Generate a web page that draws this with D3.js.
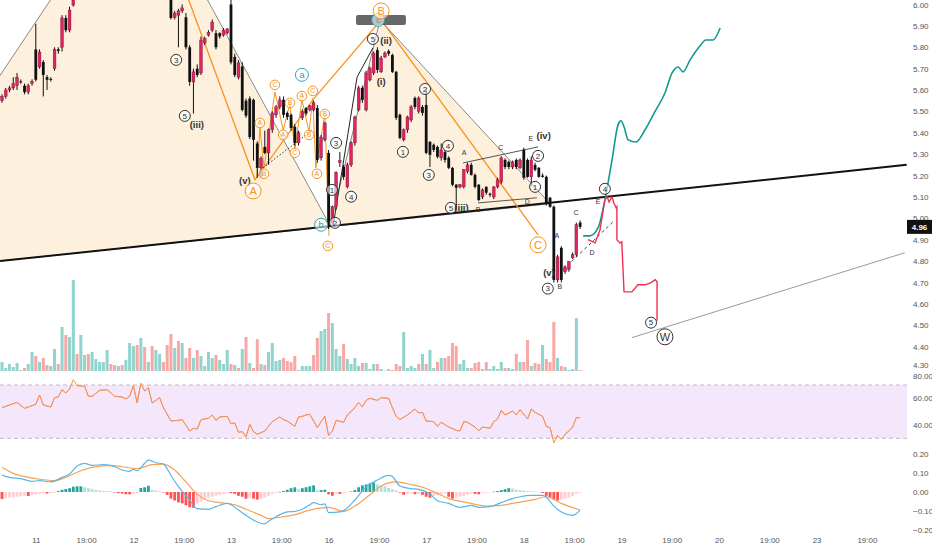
<!DOCTYPE html>
<html><head><meta charset="utf-8">
<script src="https://cdn.jsdelivr.net/npm/d3@7"></script>
<style>
body{margin:0;background:#fff}
svg{display:block}
text{font-family:"Liberation Sans",Arial,sans-serif}
</style>
</head><body>
<svg id="c" width="932" height="550"></svg>
<script>
// ---------- DATA ----------
const priceTicks = [6.00,5.90,5.80,5.70,5.60,5.50,5.40,5.30,5.20,5.10,5.00,4.90,4.80,4.70,4.60,4.50,4.40,4.30];
const rsiTicks = [80,60,40];
const macdTicks = [0.20,0.10,0.00,-0.10,-0.20];
const timeTicks = [9,22.4,35,48.4,61,74.4,87,100.4,113,126.4,139,152.4,165,178.4,191,204.4,217,230.4];
const timeLabels = ["11","19:00","12","19:00","13","19:00","16","19:00","17","19:00","18","19:00","19","19:00","20","19:00","23","19:00"];

// candles [open, high, low, close]
const candles = [
[5.55,5.58,5.54,5.57],[5.57,5.61,5.56,5.60],[5.60,5.62,5.59,5.61],[5.61,5.66,5.60,5.63],[5.62,5.68,5.60,5.66],
[5.64,5.65,5.63,5.638],[5.62,5.63,5.58,5.59],[5.59,5.63,5.58,5.62],[5.63,5.65,5.62,5.64],[5.79,5.91,5.64,5.648],
[5.708,5.79,5.70,5.778],[5.731,5.74,5.57,5.67],[5.66,5.67,5.60,5.648],[5.652,5.66,5.64,5.65],[5.70,5.80,5.69,5.79],
[5.79,5.80,5.77,5.783],[5.80,5.95,5.78,5.937],[5.937,5.95,5.87,5.88],[5.88,5.99,5.87,5.974],[5.997,6.05,5.99,6.02],
[6.03,6.12,6.03,6.10],[6.10,6.18,6.08,6.15],[6.15,6.22,6.12,6.20],[6.20,6.24,6.14,6.16],[6.16,6.20,6.12,6.18],
[6.18,6.26,6.16,6.24],[6.24,6.30,6.21,6.28],[6.28,6.32,6.24,6.26],[6.26,6.33,6.24,6.31],[6.31,6.34,6.25,6.27],
[6.27,6.29,6.22,6.24],[6.24,6.27,6.20,6.22],[6.22,6.25,6.18,6.20],[6.20,6.26,6.19,6.25],[6.25,6.36,6.23,6.34],
[6.34,6.38,6.22,6.24],[6.24,6.40,6.23,6.38],[6.38,6.42,6.30,6.32],[6.32,6.37,6.28,6.35],[6.35,6.37,6.22,6.24],
[6.24,6.27,6.18,6.20],[6.20,6.22,6.12,6.14],[6.14,6.16,6.08,6.10],[6.10,6.12,6.05,6.07],[6.07,6.09,6.03,6.05],
[6.04,6.06,5.93,5.937],[5.94,5.97,5.93,5.96],[5.95,5.98,5.80,5.97],[5.97,6.00,5.96,5.984],[5.94,5.96,5.79,5.80],
[5.80,5.81,5.62,5.638],[5.638,5.70,5.49,5.685],[5.70,5.72,5.66,5.67],[5.68,5.85,5.67,5.834],[5.82,5.85,5.81,5.84],
[5.857,5.88,5.85,5.87],[5.88,5.93,5.87,5.918],[5.866,5.88,5.79,5.80],[5.866,5.87,5.84,5.85],[5.857,5.89,5.85,5.88],
[5.867,5.89,5.86,5.886],[6.00,6.05,5.72,5.73],[5.755,5.77,5.66,5.67],[5.66,5.74,5.65,5.727],[5.71,5.73,5.50,5.507],
[5.55,5.56,5.47,5.48],[5.56,5.57,5.37,5.38],[5.554,5.56,5.27,5.367],[5.35,5.36,5.19,5.236],[5.236,5.29,5.19,5.28],
[5.334,5.41,5.30,5.306],[5.306,5.42,5.25,5.414],[5.414,5.50,5.40,5.493],[5.484,5.53,5.47,5.521],[5.521,5.57,5.51,5.554],
[5.554,5.57,5.47,5.484],[5.493,5.50,5.46,5.474],[5.484,5.49,5.41,5.423],[5.428,5.44,5.34,5.353],[5.353,5.41,5.34,5.40],
[5.47,5.51,5.46,5.50],[5.516,5.52,5.48,5.49],[5.507,5.53,5.50,5.526],[5.507,5.55,5.50,5.54],[5.516,5.53,5.26,5.273],
[5.283,5.39,5.27,5.38],[5.367,5.45,5.36,5.446],[5.306,5.32,4.95,4.96],[4.98,5.06,4.97,5.054],[5.054,5.22,5.04,5.213],
[5.26,5.31,5.24,5.27],[5.24,5.25,5.18,5.194],[5.147,5.26,5.14,5.25],[5.25,5.36,5.24,5.353],[5.353,5.48,5.34,5.474],
[5.507,5.62,5.50,5.61],[5.61,5.62,5.54,5.554],[5.507,5.69,5.50,5.68],[5.647,5.71,5.64,5.703],[5.68,5.78,5.67,5.773],
[5.787,5.80,5.68,5.694],[5.685,5.76,5.68,5.75],[5.755,5.78,5.75,5.773],[5.782,5.79,5.76,5.77],[5.764,5.77,5.68,5.685],
[5.685,5.69,5.46,5.47],[5.484,5.49,5.37,5.376],[5.367,5.42,5.36,5.414],[5.414,5.48,5.40,5.474],[5.46,5.53,5.45,5.521],
[5.563,5.57,5.51,5.521],[5.50,5.57,5.49,5.563],[5.521,5.53,5.48,5.493],[5.53,5.61,5.30,5.306],[5.358,5.36,5.24,5.297],
[5.344,5.35,5.31,5.32],[5.334,5.34,5.28,5.288],[5.283,5.35,5.27,5.32],[5.31,5.32,5.26,5.273],[5.283,5.29,5.23,5.236],
[5.236,5.24,5.15,5.157],[5.157,5.16,5.04,5.143],[5.147,5.16,5.14,5.157],[5.147,5.23,5.14,5.227],[5.22,5.26,5.21,5.25],
[5.25,5.26,5.20,5.203],[5.203,5.21,5.14,5.147],[5.157,5.16,5.08,5.086],[5.10,5.14,5.09,5.133],[5.147,5.15,5.11,5.12],
[5.115,5.12,5.10,5.11],[5.10,5.15,5.09,5.147],[5.147,5.19,5.14,5.18],[5.17,5.29,5.16,5.283],[5.273,5.28,5.23,5.24],
[5.264,5.27,5.23,5.24],[5.24,5.27,5.23,5.264],[5.273,5.28,5.23,5.24],[5.236,5.28,5.23,5.273],[5.32,5.33,5.18,5.19],
[5.273,5.28,5.19,5.194],[5.194,5.29,5.15,5.273],[5.25,5.26,5.22,5.227],[5.236,5.24,5.19,5.194],[5.20,5.21,5.19,5.194],
[5.194,5.20,5.06,5.072],[5.096,5.10,5.05,5.054],[5.054,5.06,4.70,4.712],[4.712,4.83,4.70,4.82],[4.862,4.87,4.70,4.712],
[4.75,4.78,4.74,4.773],[4.76,4.80,4.75,4.797],[4.815,4.84,4.81,4.83],[4.83,4.98,4.82,4.97],[4.98,4.99,4.95,4.96]
];

const volume = [9,3,7,4,8,1,3,7,19,15,9,13,6,5,22,7,44,36,34,91,17,36,16,17,19,12,9,9,21,7,6,5,6,11,28,25,26,33,24,9,
25,21,17,9,26,37,23,30,28,13,23,13,21,15,5,19,13,16,11,7,21,7,6,3,22,34,8,3,32,7,6,19,28,10,11,13,10,9,15,1,5,5,5,
16,33,40,42,58,48,22,15,27,12,7,13,5,8,8,2,7,7,2,0.5,2,1,7,5,39,3,5,3,7,17,7,21,3,9,13,13,15,28,25,7,11,3,3,8,9,2,9,2,5,2,9,3,3,2,17,9,9,31,5,8,7,26,12,9,49,13,5,4,1,2,53,1];
const volumeSide = ("ttttttpttp"+"tppttptptt"+"pttptttttp"+"ptptttptpt"+"pttppptptp"+"ptpttttptt"+"tptptptppt"+"pttttppppt"+"ttt"+
"ppttptttpt"+"tttptttptt"+"ppppttttpt"+"pttptppppt"+"ttppptpttt"+"tpttptpptp"+"ptppptpttt"+"tp").split("");

const rsiIdx = [0,4,6,8,9,10,11,13,14,15,16,17,18,19,20,22,23,24,26,28,30,32,33,34,35,36,37,38,39,40,42,43,45,47,48,50,51,52,53,55,56,57,58,60,61,62,63,64,65,66,67,68,70,72,74,75,76,78,79,80,81,82,84,85,86,87,88,89,91,92,94,95,96,97,98,100,101,103,104,105,106,108,110,111,112,113,115,116,117,119,121,122,123,124,126,127,128,130,131,132,133,134,136,137,138,139,140,141,142,144,145,146,147,148,149,150,151,152,153,154];
const rsiVal = [53,57,52.5,54.5,55.5,62.5,55,53.5,60.5,61,66.5,64,67,74,69.5,69,61.5,61.5,66,66.5,61.5,61,59.5,61.5,69.5,56.5,71.5,65.5,68,56.5,60.5,53,43,43.5,44,35.5,37.5,37,44,45,47.5,43.5,46,46.5,41,41.5,34.5,35,31,40.5,35,33,35.5,42.5,46,44,43,39,46,46.5,47.5,48,38,42.5,46.5,32,35.5,43.5,42,47.5,53,57,53.5,58.5,60,58.5,60.5,60,53,46.5,44,47.5,52,49,49.5,43,42.5,39,42,38.5,36,35.5,42.5,42,38.5,35.5,38.5,37.5,42.5,44.5,51,47.5,50.5,47.5,51.5,48,44.5,52,49.5,46.5,39,38,26.5,32,29,33,35.5,38.5,45.5,45.5];

const macdIdx = [0,2,5,8,10,13,16,18,20,22,24,27,30,32,34,35,36,38,39,41,43,45,47,50,52,55,57,60,63,65,68,70,71,73,76,78,80,82,83,85,86,87,90,91,94,97,100,103,104,106,109,111,114,116,119,122,125,127,130,133,136,138,141,144,145,147,149,152,154];
const macdVal = [.089,.077,.070,.056,.060,.053,.077,.095,.137,.151,.140,.144,.133,.116,.109,.119,.112,.151,.168,.154,.147,.088,.028,-.042,-.088,-.091,-.077,-.060,-.095,-.123,-.158,-.168,-.154,-.130,-.105,-.102,-.091,-.067,-.056,-.067,-.063,-.109,-.105,-.098,-.042,.028,.063,.088,.081,.032,.018,.014,-.011,-.046,-.060,-.081,-.070,-.081,-.077,-.056,-.035,-.025,-.018,-.018,-.028,-.074,-.105,-.123,-.095];
const signalIdx = [0,3,7,10,14,17,21,24,29,32,36,40,43,46,49,52,55,58,62,65,69,71,75,78,82,87,91,94,98,101,105,109,112,116,119,124,129,133,137,142,145,149,154];
const signalVal = [.130,.098,.077,.067,.060,.077,.112,.130,.140,.133,.123,.144,.147,.116,.053,-.011,-.046,-.056,-.067,-.091,-.123,-.140,-.130,-.119,-.095,-.081,-.102,-.074,-.014,.032,.053,.039,.025,-.007,-.035,-.056,-.074,-.070,-.056,-.039,-.025,-.060,-.095];
const histogram = [
-.037,-.033,-.030,-.028,-.025,-.023,-.020,-.021,-.015,-.012,
-.010,-.008,-.008,-.006,-.004,.005,.012,.016,.020,.028,
.030,.030,.025,.020,.015,.010,.008,.006,.005,.004,
-.003,-.006,-.008,-.012,-.012,-.008,-.006,.021,.025,.033,
.012,.008,.004,-.002,-.015,-.035,-.045,-.055,-.060,-.070,
-.080,-.083,-.060,-.050,-.040,-.030,-.025,-.020,-.015,-.010,
-.005,-.006,-.010,-.020,-.025,-.035,-.030,-.035,-.040,-.035,
-.030,-.020,-.012,-.005,.001,.005,.012,.020,.025,.015,
.020,.025,.030,.035,.010,.010,.012,-.012,-.020,-.010,
-.010,-.008,-.003,.003,.010,.025,.035,.040,.045,.050,
.040,.035,.030,.022,.015,.008,-.003,-.015,-.010,-.008,
-.012,-.010,-.015,-.025,-.030,-.020,-.015,-.010,-.008,-.025,
-.035,-.030,-.025,-.020,-.015,-.008,-.010,-.012,-.005,-.004,
-.003,.002,.005,.010,.015,.020,.018,.012,.010,.008,
.006,.004,.002,.000,-.005,-.020,-.030,-.040,-.045,-.040,
-.035,-.030,-.020,-.010,-.005];

// drawings, in [bar index, price]
const neckline = [[-0.5,4.80],[241,5.25]];
const hsOutline = [[-36,4.736],[36.0,6.628],[87.4,4.965],[100.7,5.928],[146,5.068]];
const waveABC = [[48.75,6.068],[67.4,5.180],[82.8,5.554],[101.0,5.928],[142.8,4.923]];
const subWaveA = [[67.9,5.189],[68.7,5.423],[69.8,5.236],[72.7,5.591],[74.9,5.414],[76.7,5.535],[78.0,5.320],[79.9,5.554],[81.8,5.404],[82.8,5.563]];
const subWaveB = [[82.8,5.554],[83.6,5.236],[86.0,5.484],[87.1,4.918]];
const dottedLine = [[69.5,5.236],[82.8,5.414]];
const impulseLine = [[88.2,4.965],[94.6,5.661],[98.8,5.797]];
const triUpper = [[122.8,5.259],[142.8,5.334]];
const triLower = [[126.8,5.072],[142.5,5.096]];
const dashedLine = [[149.4,4.759],[162.8,4.984]];
const grayLine = [[167.8,4.442],[240.5,4.839]];
const tealPath = [[154.8,4.918],[156.6,4.918],[158.8,4.956],[160.6,5.086],[162.5,5.273],[164.1,5.437],[164.9,5.456],[165.7,5.428],[166.8,5.367],[168.9,5.357],[171.3,5.414],[173.9,5.498],[176.6,5.586],[178.5,5.680],[180.1,5.708],[181.4,5.685],[183.3,5.741],[185.9,5.806],[187.5,5.834],[189.4,5.834],[191.3,5.890]];
const redPath = [[156.1,4.900],[158.0,4.885],[159.3,4.946],[160.6,5.086],[161.2,5.100],[161.7,5.077],[162.5,5.100],[163.0,5.072],[163.6,5.049],[163.8,5.054],[163.8,4.900],[164.6,4.885],[165.1,4.890],[165.7,4.656],[167.8,4.656],[169.4,4.689],[171.3,4.689],[172.9,4.699],[174.0,4.713],[174.5,4.703],[174.5,4.521]];
const bBox = [94.3,107.6,5.951,5.904];
const labels = [
 {i:46.4,p:5.741,t:"3",s:"c"},{i:48.7,p:5.479,t:"5",s:"c"},{i:51.9,p:5.437,t:"(iii)",s:"w"},
 {i:64.7,p:5.175,t:"(v)",s:"w"},{i:66.9,p:5.128,t:"A",s:"O"},
 {i:68.7,p:5.446,t:"A",s:"o"},{i:69.8,p:5.208,t:"B",s:"o"},{i:72.7,p:5.624,t:"C",s:"o"},
 {i:74.9,p:5.390,t:"A",s:"o"},{i:76.7,p:5.540,t:"B",s:"o"},{i:78.0,p:5.306,t:"C",s:"o"},
 {i:79.9,p:5.572,t:"A",s:"o"},{i:81.8,p:5.390,t:"B",s:"o"},{i:82.8,p:5.596,t:"C",s:"o"},
 {i:79.9,p:5.671,t:"a",s:"t"},{i:83.9,p:5.208,t:"A",s:"o"},{i:86.0,p:5.488,t:"B",s:"o"},
 {i:85.0,p:4.970,t:"b",s:"t"},{i:86.8,p:4.871,t:"C",s:"o"},
 {i:88.7,p:4.979,t:"2",s:"c"},{i:87.9,p:5.133,t:"1",s:"c"},{i:89.0,p:5.353,t:"3",s:"c"},{i:93.0,p:5.101,t:"4",s:"c"},
 {i:100.2,p:5.928,t:"c",s:"t"},{i:101.0,p:5.970,t:"B",s:"O"},
 {i:98.8,p:5.839,t:"5",s:"c"},{i:102.3,p:5.829,t:"(ii)",s:"w"},{i:101.0,p:5.638,t:"(i)",s:"w"},
 {i:112.7,p:5.605,t:"2",s:"c"},{i:106.8,p:5.311,t:"1",s:"c"},{i:113.7,p:5.203,t:"3",s:"c"},{i:118.8,p:5.339,t:"4",s:"c"},
 {i:119.6,p:5.049,t:"5",s:"c"},{i:122.4,p:5.049,t:"(iii)",s:"w"},
 {i:123.1,p:5.306,t:"A",s:"l"},{i:126.8,p:5.040,t:"B",s:"l"},{i:132.9,p:5.329,t:"C",s:"l"},
 {i:139.9,p:5.077,t:"D",s:"l"},{i:140.9,p:5.371,t:"E",s:"l"},{i:144.3,p:5.385,t:"(iv)",s:"w"},
 {i:142.8,p:5.292,t:"2",s:"c"},{i:142.0,p:5.147,t:"1",s:"c"},{i:142.8,p:4.876,t:"C",s:"O"},
 {i:145.7,p:4.745,t:"(v)",s:"w"},{i:145.4,p:4.671,t:"3",s:"c"},{i:148.6,p:4.680,t:"B",s:"l"},
 {i:147.8,p:4.918,t:"A",s:"l"},{i:152.9,p:5.026,t:"C",s:"l"},{i:157.2,p:4.839,t:"D",s:"l"},
 {i:158.8,p:5.077,t:"E",s:"l"},{i:160.6,p:5.138,t:"4",s:"c"},
 {i:172.9,p:4.512,t:"5",s:"c"},{i:176.6,p:4.446,t:"W",s:"W"}
];

// ---------- CHART ----------
const svg = d3.select("#c");
const plotRight = 907;
const x = d3.scaleLinear().domain([0,241]).range([2,906.7]);
const yP = d3.scaleLinear().domain([4.30,6.00]).range([368,4.5]);
const yV = d3.scaleLinear().domain([0,100]).range([371,271]);
const yR = d3.scaleLinear().domain([30,70]).range([438.3,385]);
const yM = d3.scaleLinear().domain([-0.2,0.2]).range([530,454]);

const defs = svg.append("defs");
defs.append("clipPath").attr("id","mainClip").append("rect").attr("x",0).attr("y",0).attr("width",plotRight).attr("height",372);
defs.append("clipPath").attr("id","rsiIn").append("rect").attr("x",0).attr("y",yR(70)).attr("width",plotRight).attr("height",yR(30)-yR(70));

const main = svg.append("g").attr("clip-path","url(#mainClip)");
const line = d3.line().x(d=>x(d[0])).y(d=>yP(d[1]));

// H&S fill
main.append("path").datum(hsOutline.concat([hsOutline[0]]))
  .attr("d",line).attr("fill","#fdf0dd").attr("stroke","#7d7d7d").attr("stroke-width",0.9);

// volume
main.append("g").selectAll("rect").data(volume).join("rect")
  .attr("x",(d,i)=>x(i)-1.5).attr("width",3)
  .attr("y",d=>yV(d)).attr("height",d=>yV(0)-yV(d))
  .attr("fill",(d,i)=>volumeSide[i]==="t"?"#92d3cd":"#f7a7a6");

// neckline
main.append("path").datum(neckline).attr("d",line).attr("stroke","#111").attr("stroke-width",2).attr("fill","none");
main.append("path").datum(grayLine).attr("d",line).attr("stroke","#9a9a9a").attr("stroke-width",1).attr("fill","none");

// orange waves
const orange = "#f7941d";
main.append("path").datum(waveABC).attr("d",line).attr("stroke",orange).attr("stroke-width",1.3).attr("fill","none");
[subWaveA,subWaveB].forEach(w=>main.append("path").datum(w).attr("d",line).attr("stroke",orange).attr("stroke-width",1).attr("fill","none"));
main.append("path").datum(dottedLine).attr("d",line).attr("stroke","#333").attr("stroke-width",1).attr("stroke-dasharray","1.5,2").attr("fill","none");
main.append("path").datum(impulseLine).attr("d",line).attr("stroke","#222").attr("stroke-width",1).attr("fill","none");
[triUpper,triLower].forEach(w=>main.append("path").datum(w).attr("d",line).attr("stroke","#444").attr("stroke-width",0.9).attr("fill","none"));
main.append("path").datum(dashedLine).attr("d",line).attr("stroke","#444").attr("stroke-width",1).attr("stroke-dasharray","3,3").attr("fill","none");

// candles
const cg = main.append("g");
candles.forEach((c,i)=>{
  const [o,h,l,cl] = c;
  const up = cl>=o;
  const cx = x(i);
  cg.append("line").attr("x1",cx).attr("x2",cx).attr("y1",yP(h)).attr("y2",yP(l)).attr("stroke","#111").attr("stroke-width",1);
  const top = yP(Math.max(o,cl)), bot = yP(Math.min(o,cl));
  cg.append("rect").attr("x",cx-1.4).attr("width",2.8).attr("y",top).attr("height",Math.max(1,bot-top))
    .attr("fill",up?"#e0245f":"#111").attr("stroke",up?"#7a1030":"none").attr("stroke-width",0.4);
});

// projections
main.append("path").datum(tealPath).attr("d",d3.line().x(d=>x(d[0])).y(d=>yP(d[1])).curve(d3.curveMonotoneX))
  .attr("stroke","#14998f").attr("stroke-width",1.6).attr("fill","none");
main.append("path").datum(redPath).attr("d",line).attr("stroke","#f0304d").attr("stroke-width",1.4).attr("fill","none");

// B box
main.append("rect").attr("x",x(bBox[0])).attr("y",yP(bBox[2])).attr("width",x(bBox[1])-x(bBox[0]))
  .attr("height",yP(bBox[3])-yP(bBox[2])).attr("rx",2).attr("fill","#5a5a5a").attr("opacity",0.92);

// labels
const styles = {
  c:{r:5.5,stroke:"#333",color:"#333",size:8,fill:"rgba(255,255,255,0.6)"},
  o:{r:4.8,stroke:orange,color:orange,size:7,fill:"rgba(255,255,255,0.6)"},
  O:{r:8,stroke:orange,color:orange,size:11,fill:"rgba(255,255,255,0.6)"},
  t:{r:6.5,stroke:"#22a7c4",color:"#1d9fb8",size:9,fill:"rgba(255,255,255,0.6)"},
  W:{r:8,stroke:"#333",color:"#333",size:11,fill:"rgba(255,255,255,0.8)"}
};
labels.forEach(d=>{
  const cx = x(d.i), cy = yP(d.p);
  const st = styles[d.s];
  if(st){
    main.append("circle").attr("cx",cx).attr("cy",cy).attr("r",st.r).attr("fill",st.fill).attr("stroke",st.stroke).attr("stroke-width",1);
    main.append("text").attr("x",cx).attr("y",cy).attr("dy","0.35em").attr("text-anchor","middle")
      .attr("font-size",st.size).attr("fill",st.color).text(d.t);
  } else if(d.s==="w"){
    main.append("text").attr("x",cx).attr("y",cy).attr("dy","0.35em").attr("text-anchor","middle")
      .attr("font-size",9.5).attr("font-weight","bold").attr("fill","#333").text(d.t);
  } else {
    main.append("text").attr("x",cx).attr("y",cy).attr("dy","0.35em").attr("text-anchor","middle")
      .attr("font-size",7).attr("fill","#333").text(d.t);
  }
});

// RSI
svg.append("rect").attr("x",0).attr("y",yR(70)).attr("width",plotRight).attr("height",yR(30)-yR(70)).attr("fill","#f4e7fb");
[70,30].forEach(v=>svg.append("line").attr("x1",0).attr("x2",plotRight).attr("y1",yR(v)).attr("y2",yR(v))
  .attr("stroke","#c2b6c4").attr("stroke-dasharray","4,3").attr("stroke-width",1));
const rsiPts = rsiIdx.map((d,k)=>[d,rsiVal[k]]);
const rsiLine = d3.line().x(d=>x(d[0])).y(d=>yR(d[1]));
svg.append("path").datum(rsiPts).attr("d",rsiLine).attr("stroke","#f6a12a").attr("stroke-width",1).attr("fill","none");
svg.append("path").datum(rsiPts).attr("d",rsiLine).attr("clip-path","url(#rsiIn)").attr("stroke","#f3906c").attr("stroke-width",1).attr("fill","none");

// MACD
svg.append("g").selectAll("rect").data(histogram).join("rect")
  .attr("x",(d,i)=>x(i)-1.4).attr("width",2.8)
  .attr("y",d=>Math.min(yM(d),yM(0))).attr("height",d=>Math.max(0.5,Math.abs(yM(d)-yM(0))))
  .attr("fill",(d,i)=>{
    const prev = i>0?histogram[i-1]:d;
    if(d>=0) return d>=prev?"#26a69a":"#b2dfdb";
    return d<=prev?"#ff5252":"#ffcdd2";
  });
const mLine = d3.line().x(d=>x(d[0])).y(d=>yM(d[1])).curve(d3.curveMonotoneX);
svg.append("path").datum(signalIdx.map((d,k)=>[d,signalVal[k]])).attr("d",mLine).attr("stroke","#f7a155").attr("stroke-width",1.2).attr("fill","none");
svg.append("path").datum(macdIdx.map((d,k)=>[d,macdVal[k]])).attr("d",mLine).attr("stroke","#5ab6e6").attr("stroke-width",1.2).attr("fill","none");

// axes
function styleAxis(g){
  g.select(".domain").remove();
  g.selectAll("text").attr("fill","#555").attr("font-size",8).attr("font-family","Liberation Sans, Arial, sans-serif");
}
const pAx = svg.append("g").attr("transform","translate(910,0)")
  .call(d3.axisRight(yP).tickValues(priceTicks).tickFormat(d3.format(".2f")).tickSize(0).tickPadding(3)).call(styleAxis);
pAx.selectAll(".tick").filter(d=>d===4.30).select("text").attr("y",-3.5);
const rAx = svg.append("g").attr("transform","translate(910,0)")
  .call(d3.axisRight(yR).tickValues(rsiTicks).tickFormat(d3.format(".2f")).tickSize(0).tickPadding(3)).call(styleAxis);
rAx.selectAll(".tick").filter(d=>d===80).select("text").attr("y",4.5);
svg.append("g").attr("transform","translate(910,0)")
  .call(d3.axisRight(yM).tickValues(macdTicks).tickFormat(d3.format(".2f")).tickSize(0).tickPadding(3)).call(styleAxis);
svg.append("g").attr("transform","translate(0,534)")
  .call(d3.axisBottom(x).tickValues(timeTicks).tickFormat((d,i)=>timeLabels[i]).tickSize(0).tickPadding(3)).call(styleAxis);

// last price tag
const last = candles[candles.length-1][3];
svg.append("rect").attr("x",907).attr("y",yP(last)-7).attr("width",25).attr("height",14).attr("fill","#111");
svg.append("text").attr("x",919.5).attr("y",yP(last)).attr("dy","0.35em").attr("text-anchor","middle")
  .attr("font-size",8).attr("font-weight","bold").attr("fill","#fff").text(d3.format(".2f")(last));
</script>
</body></html>
